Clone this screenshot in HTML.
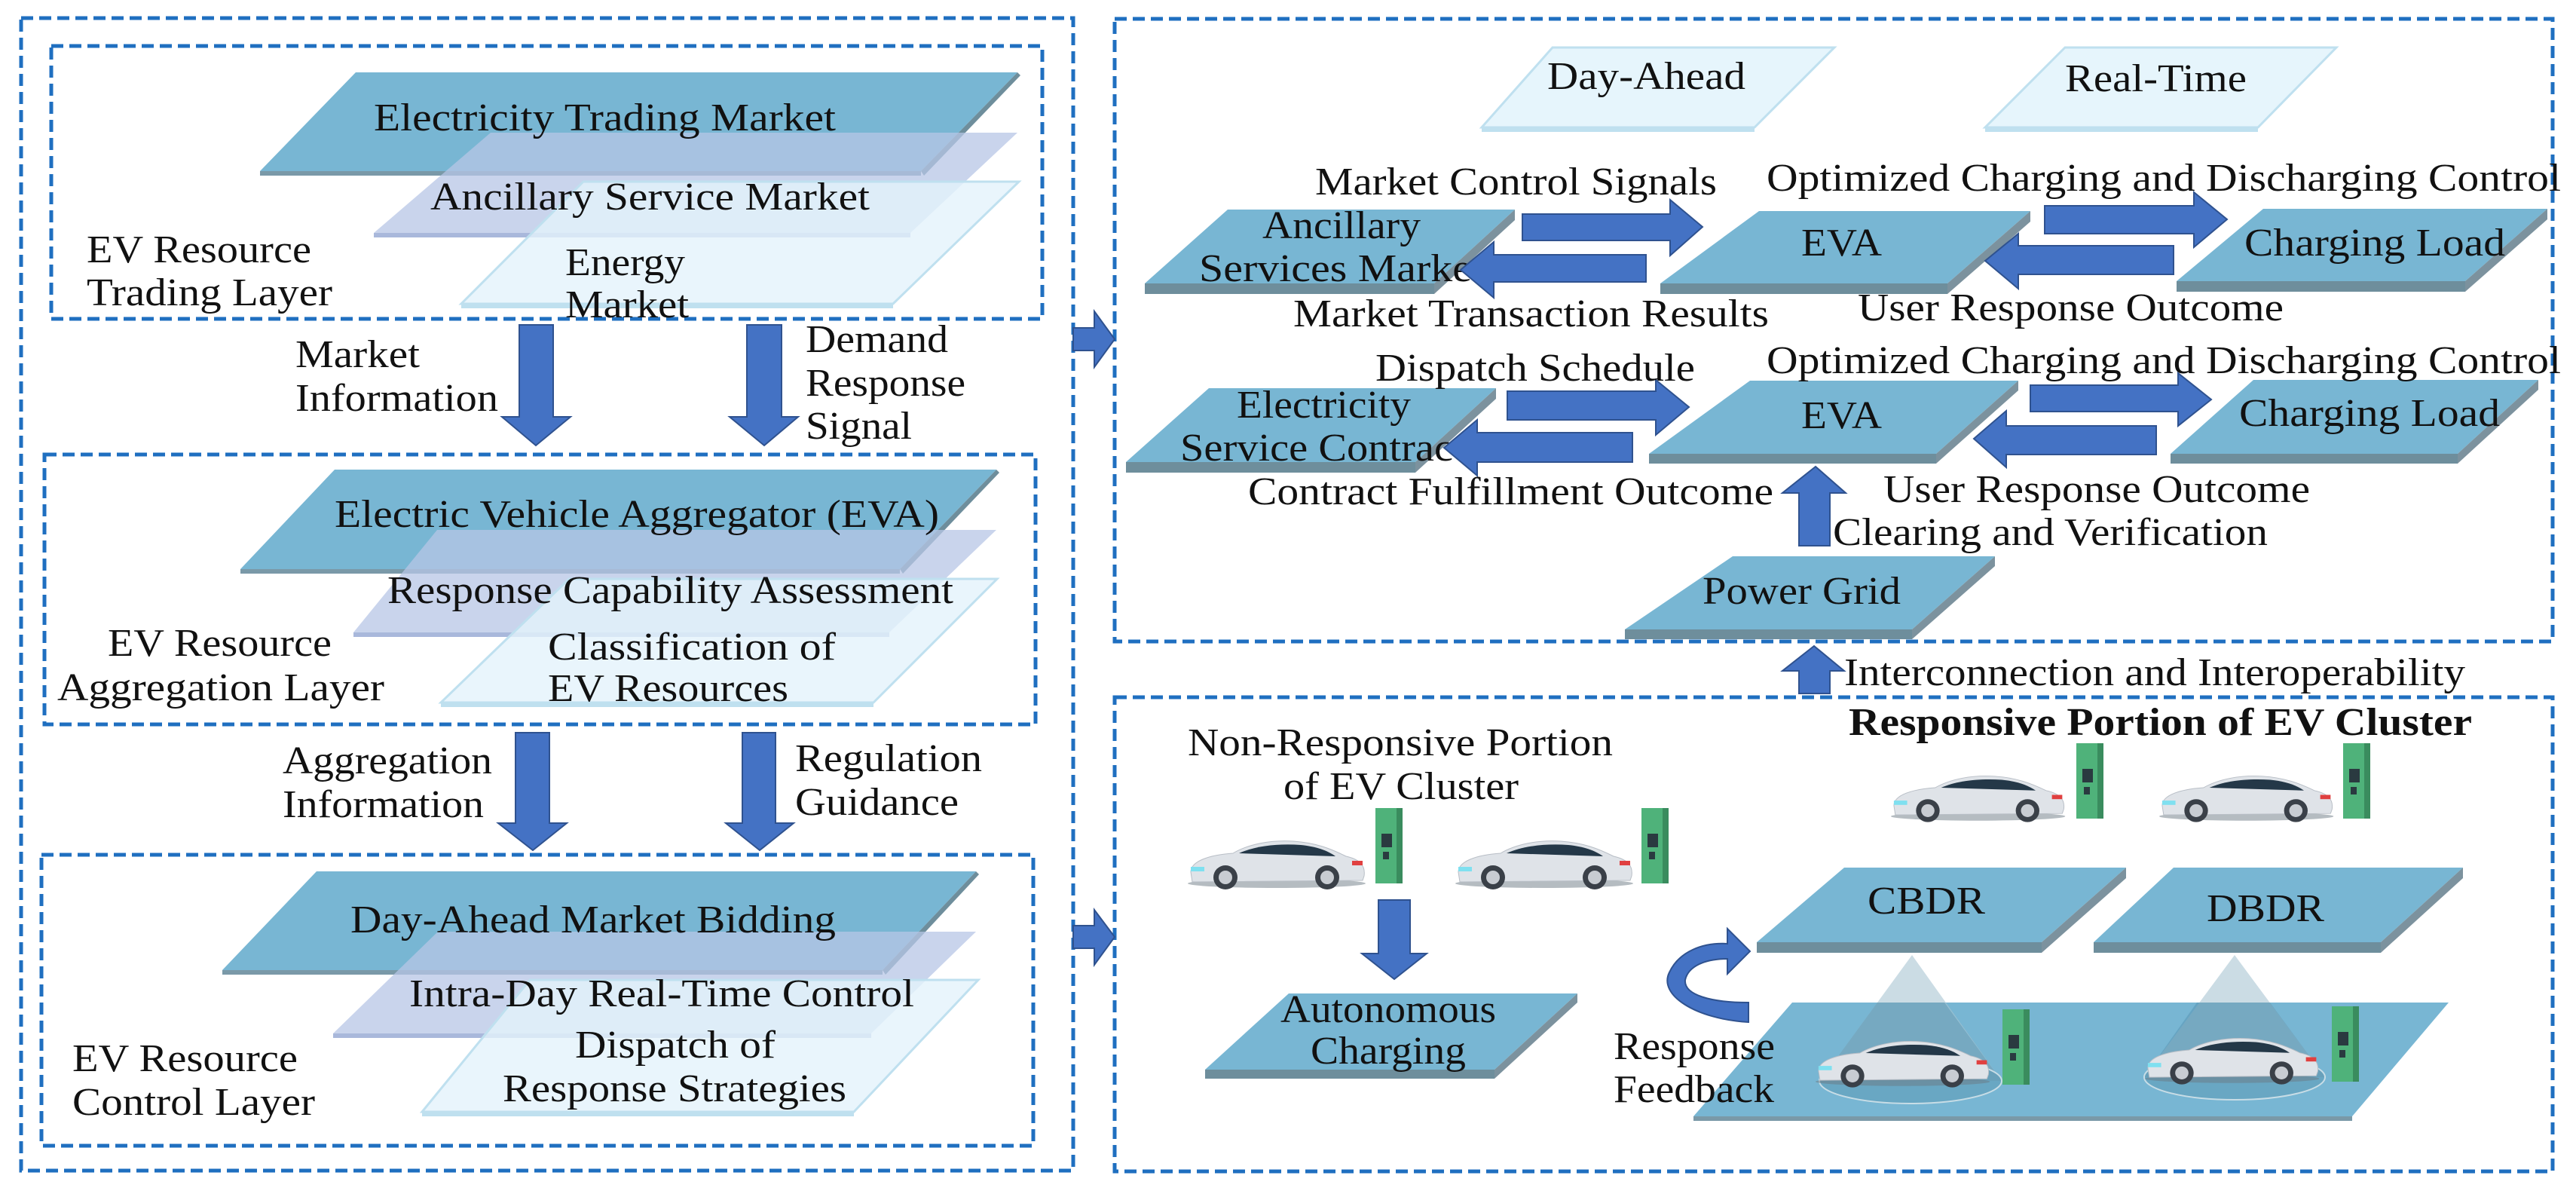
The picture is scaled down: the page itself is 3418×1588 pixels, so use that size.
<!DOCTYPE html>
<html><head><meta charset="utf-8"><style>
html,body{margin:0;padding:0;background:#fff;}
svg{display:block;}
</style></head><body>
<svg width="3418" height="1588" viewBox="0 0 3418 1588" xmlns="http://www.w3.org/2000/svg" font-family="'Liberation Serif', 'Times New Roman', serif" font-size="52" fill="#111">
<g fill="none" stroke="#1f6fc0" stroke-width="5" stroke-dasharray="16,8">
<rect x="28" y="24" width="1396" height="1529"/>
<rect x="68" y="61" width="1315" height="362"/>
<rect x="59" y="603" width="1315" height="358"/>
<rect x="55" y="1134" width="1316" height="386"/>
<rect x="1479" y="25" width="1908" height="826"/>
<rect x="1479" y="925" width="1908" height="629"/>
</g>

<!-- Trading layer -->
<polygon points="472,96 1350,96 1222,227 345,227" fill="#78b6d3"/>
<rect x="345" y="227" width="877" height="6" fill="#7a99a8"/>
<polygon points="1350,96 1354,100 1226,233 1222,227" fill="#6e8e9c"/>
<polygon points="651,176 1350,176 1208,309 496,309" fill="#b7c6e6" fill-opacity="0.75"/>
<rect x="496" y="309" width="712" height="6" fill="#a9b8db"/>
<polygon points="774,241 1352,241 1185,403 612,403" fill="#e3f3fb" fill-opacity="0.8" stroke="#bfe0ef" stroke-width="3"/>
<rect x="612" y="403" width="573" height="6" fill="#bfe0ef"/>
<g fill="#111">
<text x="496" y="173" textLength="613" lengthAdjust="spacingAndGlyphs">Electricity Trading Market</text>
<text x="571" y="278" textLength="583" lengthAdjust="spacingAndGlyphs">Ancillary Service Market</text>
<text x="750" y="365" textLength="159" lengthAdjust="spacingAndGlyphs">Energy</text>
<text x="750" y="421" textLength="164" lengthAdjust="spacingAndGlyphs">Market</text>
<text x="115" y="348" textLength="298" lengthAdjust="spacingAndGlyphs">EV Resource</text>
<text x="115" y="405" textLength="326" lengthAdjust="spacingAndGlyphs">Trading Layer</text>
</g>

<g fill="#4472c4" stroke="#2f528f" stroke-width="2">
<polygon points="689,431 734,431 734,553 757,553 711,591 666,553 689,553"/>
<polygon points="991,431 1037,431 1037,553 1059,553 1014,591 968,553 991,553"/>
<polygon points="684,972 729,972 729,1092 752,1092 707,1128 661,1092 684,1092"/>
<polygon points="985,972 1029,972 1029,1092 1053,1092 1008,1128 963,1092 985,1092"/>
<polygon points="1424,435 1452,435 1452,413 1479,450 1452,487 1452,465 1424,465"/>
<polygon points="1424,1228 1452,1228 1452,1207 1479,1243 1452,1280 1452,1258 1424,1258"/>
</g>
<text x="392" y="487" textLength="165" lengthAdjust="spacingAndGlyphs">Market</text>
<text x="392" y="545" textLength="269" lengthAdjust="spacingAndGlyphs">Information</text>
<text x="1069" y="467" textLength="189" lengthAdjust="spacingAndGlyphs">Demand</text>
<text x="1069" y="525" textLength="212" lengthAdjust="spacingAndGlyphs">Response</text>
<text x="1069" y="582" textLength="141" lengthAdjust="spacingAndGlyphs">Signal</text>

<!-- Aggregation layer -->
<polygon points="444,623 1322,623 1194,755 319,755" fill="#78b6d3"/>
<rect x="319" y="755" width="875" height="6" fill="#7a99a8"/>
<polygon points="1322,623 1326,627 1198,761 1194,755" fill="#6e8e9c"/>
<polygon points="580,703 1322,703 1180,839 469,839" fill="#b7c6e6" fill-opacity="0.75"/>
<rect x="469" y="839" width="711" height="6" fill="#a9b8db"/>
<polygon points="755,768 1323,768 1159,932 585,932" fill="#e3f3fb" fill-opacity="0.8" stroke="#bfe0ef" stroke-width="3"/>
<rect x="585" y="932" width="574" height="6" fill="#bfe0ef"/>
<text x="444" y="699" textLength="802" lengthAdjust="spacingAndGlyphs">Electric Vehicle Aggregator (EVA)</text>
<text x="514" y="800" textLength="751" lengthAdjust="spacingAndGlyphs">Response Capability Assessment</text>
<text x="727" y="875" textLength="382" lengthAdjust="spacingAndGlyphs">Classification of</text>
<text x="727" y="930" textLength="319" lengthAdjust="spacingAndGlyphs">EV Resources</text>
<text x="143" y="870" textLength="297" lengthAdjust="spacingAndGlyphs">EV Resource</text>
<text x="76" y="929" textLength="434" lengthAdjust="spacingAndGlyphs">Aggregation Layer</text>
<text x="375" y="1026" textLength="278" lengthAdjust="spacingAndGlyphs">Aggregation</text>
<text x="375" y="1084" textLength="267" lengthAdjust="spacingAndGlyphs">Information</text>
<text x="1055" y="1023" textLength="248" lengthAdjust="spacingAndGlyphs">Regulation</text>
<text x="1055" y="1081" textLength="217" lengthAdjust="spacingAndGlyphs">Guidance</text>

<!-- Control layer -->
<polygon points="420,1156 1295,1156 1171,1287 295,1287" fill="#78b6d3"/>
<rect x="295" y="1287" width="876" height="6" fill="#7a99a8"/>
<polygon points="1295,1156 1299,1160 1175,1293 1171,1287" fill="#6e8e9c"/>
<polygon points="581,1236 1295,1236 1156,1371 442,1371" fill="#b7c6e6" fill-opacity="0.75"/>
<rect x="442" y="1371" width="714" height="6" fill="#a9b8db"/>
<polygon points="703,1300 1298,1300 1133,1475 560,1475" fill="#e3f3fb" fill-opacity="0.8" stroke="#bfe0ef" stroke-width="3"/>
<rect x="560" y="1475" width="573" height="6" fill="#bfe0ef"/>
<text x="465" y="1237" textLength="644" lengthAdjust="spacingAndGlyphs">Day-Ahead Market Bidding</text>
<text x="543" y="1335" textLength="670" lengthAdjust="spacingAndGlyphs">Intra-Day Real-Time Control</text>
<text x="763" y="1403" textLength="266" lengthAdjust="spacingAndGlyphs">Dispatch of</text>
<text x="667" y="1461" textLength="456" lengthAdjust="spacingAndGlyphs">Response Strategies</text>
<text x="96" y="1421" textLength="299" lengthAdjust="spacingAndGlyphs">EV Resource</text>
<text x="96" y="1479" textLength="322" lengthAdjust="spacingAndGlyphs">Control Layer</text>

<!-- Right top -->
<polygon points="2060,63 2434,63 2328,169 1966,169" fill="#e6f5fc" stroke="#bfe0ef" stroke-width="3"/>
<rect x="1966" y="169" width="362" height="6" fill="#bfe0ef"/>
<text x="2053" y="118" textLength="263" lengthAdjust="spacingAndGlyphs">Day-Ahead</text>
<polygon points="2740,63 3100,63 2996,169 2634,169" fill="#e6f5fc" stroke="#bfe0ef" stroke-width="3"/>
<rect x="2634" y="169" width="362" height="6" fill="#bfe0ef"/>
<text x="2740" y="121" textLength="241" lengthAdjust="spacingAndGlyphs">Real-Time</text>

<g>
<polygon points="1629,278 2010,278 1903,376 1519,376" fill="#78b6d3"/>
<rect x="1519" y="376" width="384" height="14" fill="#6e8e9c"/>
<polygon points="2010,278 2010,292 1903,390 1903,376" fill="#7c929e"/>
<polygon points="2334,280 2694,280 2584,376 2203,376" fill="#78b6d3"/>
<rect x="2203" y="376" width="381" height="14" fill="#6e8e9c"/>
<polygon points="2694,280 2694,294 2584,390 2584,376" fill="#7c929e"/>
<polygon points="3003,277 3380,277 3271,373 2888,373" fill="#78b6d3"/>
<rect x="2888" y="373" width="383" height="14" fill="#6e8e9c"/>
<polygon points="3380,277 3380,291 3271,387 3271,373" fill="#7c929e"/>
<polygon points="1604,515 1985,515 1878,613 1494,613" fill="#78b6d3"/>
<rect x="1494" y="613" width="384" height="14" fill="#6e8e9c"/>
<polygon points="1985,515 1985,529 1878,627 1878,613" fill="#7c929e"/>
<polygon points="2322,505 2678,505 2569,602 2188,602" fill="#78b6d3"/>
<rect x="2188" y="602" width="381" height="13" fill="#6e8e9c"/>
<polygon points="2678,505 2678,518 2569,615 2569,602" fill="#7c929e"/>
<polygon points="2990,504 3368,504 3261,602 2880,602" fill="#78b6d3"/>
<rect x="2880" y="602" width="381" height="13" fill="#6e8e9c"/>
<polygon points="3368,504 3368,517 3261,615 3261,602" fill="#7c929e"/>
<polygon points="2299,738 2647,738 2537,835 2156,835" fill="#78b6d3"/>
<rect x="2156" y="835" width="381" height="13" fill="#6e8e9c"/>
<polygon points="2647,738 2647,751 2537,848 2537,835" fill="#7c929e"/>
</g>
<text x="1675" y="316" textLength="210" lengthAdjust="spacingAndGlyphs">Ancillary</text>
<text x="1591" y="373" textLength="362" lengthAdjust="spacingAndGlyphs">Services Marke</text>
<text x="2390" y="339" textLength="107" lengthAdjust="spacingAndGlyphs">EVA</text>
<text x="2978" y="339" textLength="346" lengthAdjust="spacingAndGlyphs">Charging Load</text>
<text x="1641" y="554" textLength="231" lengthAdjust="spacingAndGlyphs">Electricity</text>
<text x="1566" y="611" textLength="362" lengthAdjust="spacingAndGlyphs">Service Contrac</text>
<text x="2390" y="568" textLength="107" lengthAdjust="spacingAndGlyphs">EVA</text>
<text x="2971" y="565" textLength="346" lengthAdjust="spacingAndGlyphs">Charging Load</text>
<text x="2259" y="801" textLength="263" lengthAdjust="spacingAndGlyphs">Power Grid</text>

<g fill="#4472c4" stroke="#2f528f" stroke-width="2">
<polygon points="2020,284 2216,284 2216,265 2259,301 2216,339 2216,319 2020,319"/>
<polygon points="2184,338 1982,338 1982,321 1938,358 1982,395 1982,374 2184,374"/>
<polygon points="2713,273 2911,273 2911,255 2955,291 2911,328 2911,310 2713,310"/>
<polygon points="2884,326 2678,326 2678,310 2634,346 2678,383 2678,364 2884,364"/>
<polygon points="2000,519 2197,519 2197,504 2241,540 2197,577 2197,557 2000,557"/>
<polygon points="2166,574 1960,574 1960,557 1916,594 1960,631 1960,613 2166,613"/>
<polygon points="2694,511 2890,511 2890,495 2934,530 2890,565 2890,546 2694,546"/>
<polygon points="2861,565 2662,565 2662,545 2619,582 2662,620 2662,603 2861,603"/>
<polygon points="2387,724 2428,724 2428,654 2449,654 2409,619 2365,654 2387,654"/>
<polygon points="2387,920 2428,920 2428,890 2447,890 2407,857 2365,890 2387,890"/>
</g>
<text x="1745" y="258" textLength="533" lengthAdjust="spacingAndGlyphs">Market Control Signals</text>
<text x="2344" y="253" textLength="1054" lengthAdjust="spacingAndGlyphs">Optimized Charging and Discharging Control</text>
<text x="1716" y="433" textLength="631" lengthAdjust="spacingAndGlyphs">Market Transaction Results</text>
<text x="2465" y="425" textLength="565" lengthAdjust="spacingAndGlyphs">User Response Outcome</text>
<text x="1825" y="505" textLength="424" lengthAdjust="spacingAndGlyphs">Dispatch Schedule</text>
<text x="2344" y="495" textLength="1054" lengthAdjust="spacingAndGlyphs">Optimized Charging and Discharging Control</text>
<text x="1656" y="669" textLength="697" lengthAdjust="spacingAndGlyphs">Contract Fulfillment Outcome</text>
<text x="2499" y="666" textLength="566" lengthAdjust="spacingAndGlyphs">User Response Outcome</text>
<text x="2432" y="723" textLength="577" lengthAdjust="spacingAndGlyphs">Clearing and Verification</text>
<text x="2447" y="909" textLength="824" lengthAdjust="spacingAndGlyphs">Interconnection and Interoperability</text>

<!-- Bottom right -->
<text x="2453" y="975" font-weight="bold" textLength="827" lengthAdjust="spacingAndGlyphs">Responsive Portion of EV Cluster</text>
<text x="1576" y="1002" textLength="564" lengthAdjust="spacingAndGlyphs">Non-Responsive Portion</text>
<text x="1703" y="1060" textLength="312" lengthAdjust="spacingAndGlyphs">of EV Cluster</text>

<defs>
<g id="car">
<ellipse cx="118" cy="60" rx="118" ry="6" fill="#6c7a84" opacity="0.5"/>
<path d="M4,45 C4,30 30,22 60,20 C80,8 110,2 140,4 C170,6 190,14 210,24 C228,28 236,36 234,50 L232,56 L6,58 Z" fill="#dfe3e8" stroke="#b8bec6" stroke-width="1"/>
<path d="M68,20 C90,10 120,7 150,9 C170,11 185,16 196,24 Z" fill="#243848"/>
<rect x="4" y="38" width="18" height="6" fill="#7fe0f0"/>
<rect x="218" y="30" width="14" height="6" fill="#e04040"/>
<circle cx="50" cy="52" r="16" fill="#3a4048"/><circle cx="50" cy="52" r="9" fill="#c8ccd2"/>
<circle cx="185" cy="52" r="16" fill="#3a4048"/><circle cx="185" cy="52" r="9" fill="#c8ccd2"/>
</g>
<g id="chg">
<rect x="0" y="0" width="36" height="100" fill="#4fb27a"/>
<rect x="28" y="0" width="8" height="100" fill="#3a8c5e"/>
<rect x="8" y="34" width="14" height="18" fill="#2a3a40"/>
<rect x="10" y="58" width="8" height="10" fill="#2a3a40"/>
</g>
</defs>
<use href="#car" transform="translate(1576,1112)"/>
<use href="#chg" transform="translate(1825,1072)"/>
<use href="#car" transform="translate(1931,1112)"/>
<use href="#chg" transform="translate(2178,1072)"/>
<use href="#car" transform="translate(2509,1026) scale(0.98,0.95)"/>
<use href="#chg" transform="translate(2755,986)"/>
<use href="#car" transform="translate(2865,1026) scale(0.98,0.95)"/>
<use href="#chg" transform="translate(3109,986)"/>

<polygon points="1829,1194 1871,1194 1871,1265 1893,1265 1850,1299 1807,1265 1829,1265" fill="#4472c4" stroke="#2f528f" stroke-width="2"/>

<polygon points="1710,1318 2093,1318 1983,1419 1599,1419" fill="#78b6d3"/>
<rect x="1599" y="1419" width="384" height="12" fill="#6e8e9c"/>
<polygon points="2093,1318 2093,1330 1983,1431 1983,1419" fill="#7c929e"/>
<text x="1699" y="1356" textLength="286" lengthAdjust="spacingAndGlyphs">Autonomous</text>
<text x="1739" y="1411" textLength="206" lengthAdjust="spacingAndGlyphs">Charging</text>

<polygon points="2447,1151 2821,1151 2709,1250 2331,1250" fill="#78b6d3"/>
<rect x="2331" y="1250" width="378" height="14" fill="#6e8e9c"/>
<polygon points="2821,1151 2821,1165 2709,1264 2709,1250" fill="#7c929e"/>
<text x="2478" y="1212" textLength="156" lengthAdjust="spacingAndGlyphs">CBDR</text>
<polygon points="2884,1151 3268,1151 3159,1250 2778,1250" fill="#78b6d3"/>
<rect x="2778" y="1250" width="381" height="14" fill="#6e8e9c"/>
<polygon points="3268,1151 3268,1165 3159,1264 3159,1250" fill="#7c929e"/>
<text x="2928" y="1222" textLength="156" lengthAdjust="spacingAndGlyphs">DBDR</text>

<polygon points="2378,1330 3249,1330 3121,1481 2247,1481" fill="#78b6d3"/>
<rect x="2247" y="1481" width="874" height="6" fill="#7a99a8"/>
<polygon points="2537,1267 2415,1434 2656,1434" fill="#a9c4d2" fill-opacity="0.6"/>
<polygon points="2537,1330 2491,1330 2415,1434 2656,1434 2580,1330" fill="#4f8fac" fill-opacity="0.45"/>
<ellipse cx="2535" cy="1434" rx="121" ry="30" fill="#5a98b4" fill-opacity="0.5" stroke="#c8dde6" stroke-width="2"/>
<polygon points="2965,1267 2845,1429 3085,1429" fill="#a9c4d2" fill-opacity="0.6"/>
<polygon points="2965,1330 2915,1330 2845,1429 3085,1429 3012,1330" fill="#4f8fac" fill-opacity="0.45"/>
<ellipse cx="2965" cy="1429" rx="120" ry="30" fill="#5a98b4" fill-opacity="0.5" stroke="#c8dde6" stroke-width="2"/>
<use href="#car" transform="translate(2409,1378) scale(0.98,0.95)"/>
<use href="#chg" transform="translate(2657,1339)"/>
<use href="#car" transform="translate(2846,1374) scale(0.98,0.95)"/>
<use href="#chg" transform="translate(3094,1335)"/>

<path d="M2320,1356 C2250,1352 2200,1320 2215,1290 C2228,1262 2260,1250 2292,1252 L2292,1232 L2322,1262 L2292,1292 L2292,1272 C2262,1272 2240,1282 2236,1300 C2234,1320 2270,1330 2320,1330 Z" fill="#4472c4" stroke="#2f528f" stroke-width="2"/>
<text x="2141" y="1405" textLength="214" lengthAdjust="spacingAndGlyphs">Response</text>
<text x="2141" y="1462" textLength="213" lengthAdjust="spacingAndGlyphs">Feedback</text>
</svg>
</body></html>
